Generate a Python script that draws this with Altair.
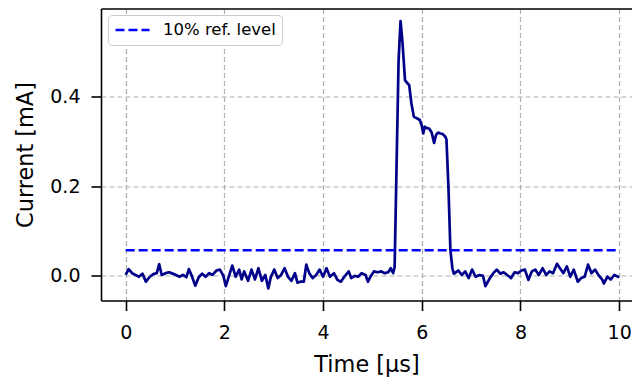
import altair as alt
import pandas as pd

time_us = [
    0.00, 0.06, 0.13, 0.20, 0.27, 0.34, 0.41, 0.49, 0.56, 0.63, 0.68, 0.73, 0.81, 0.88, 0.95,
    1.02, 1.09, 1.16, 1.23, 1.28, 1.34, 1.41, 1.48, 1.55, 1.62, 1.69, 1.76, 1.84, 1.91, 1.98,
    2.03, 2.08, 2.16, 2.23, 2.30, 2.35, 2.40, 2.48, 2.55, 2.62, 2.69, 2.76, 2.83, 2.89, 2.94,
    3.01, 3.08, 3.15, 3.22, 3.29, 3.36, 3.43, 3.48, 3.54, 3.61, 3.66, 3.72, 3.79, 3.86, 3.93,
    4.00, 4.07, 4.14, 4.22, 4.29, 4.36, 4.43, 4.52, 4.57, 4.64, 4.71, 4.78, 4.86, 4.91, 4.96,
    5.03, 5.10, 5.18, 5.25, 5.32, 5.37, 5.42, 5.45, 5.49, 5.53, 5.57, 5.61, 5.66, 5.71, 5.745,
    5.79, 5.84, 5.90, 5.96, 6.00, 6.03, 6.06, 6.10, 6.15, 6.20, 6.25, 6.29, 6.33, 6.38, 6.42,
    6.47, 6.50, 6.54, 6.58, 6.62, 6.65, 6.67, 6.74, 6.81, 6.88, 6.95, 7.02, 7.09, 7.17, 7.24,
    7.29, 7.38, 7.45, 7.52, 7.59, 7.66, 7.73, 7.81, 7.88, 7.95, 8.02, 8.09, 8.16, 8.23, 8.30,
    8.37, 8.45, 8.52, 8.59, 8.66, 8.74, 8.80, 8.87, 8.94, 9.01, 9.08, 9.16, 9.23, 9.30, 9.37,
    9.44, 9.51, 9.58, 9.66, 9.69, 9.76, 9.83, 9.90, 10.00,
]
current_mA = [
    0.002, 0.015, 0.006, 0.002, -0.002, 0.005, -0.013, -0.002, 0.004, 0.006, 0.026, 0.002, 0.006, 0.008, 0.005,
    0.002, -0.002, 0.002, -0.003, 0.015, 0.000, -0.022, -0.003, 0.005, -0.002, 0.006, 0.002, 0.012, 0.014, 0.000,
    -0.023, -0.005, 0.023, -0.002, 0.014, -0.008, 0.010, -0.011, 0.014, -0.008, 0.017, -0.011, 0.002, -0.028, -0.003,
    0.014, -0.005, 0.002, 0.017, -0.002, -0.011, 0.006, -0.015, -0.013, -0.013, 0.025, 0.006, -0.005, 0.002, 0.014,
    -0.002, 0.017, -0.002, 0.006, -0.009, -0.013, -0.002, 0.010, -0.005, 0.000, -0.002, 0.006, 0.002, -0.013, -0.002,
    0.010, 0.008, 0.010, 0.006, 0.008, 0.017, 0.006, 0.020, 0.250, 0.480, 0.569, 0.520, 0.437, 0.430, 0.426,
    0.385, 0.355, 0.352, 0.348, 0.335, 0.318, 0.333, 0.330, 0.329, 0.320, 0.297, 0.315, 0.320, 0.318, 0.317,
    0.312, 0.305, 0.200, 0.058, 0.017, 0.005, 0.006, 0.012, 0.002, 0.010, -0.005, 0.014, -0.002, 0.002, 0.000,
    -0.023, -0.005, 0.006, 0.014, 0.005, 0.008, 0.002, -0.005, 0.008, 0.006, 0.012, 0.014, -0.009, 0.010, 0.014,
    0.002, 0.017, 0.002, 0.010, 0.006, 0.027, 0.017, 0.006, 0.021, -0.002, 0.014, -0.013, -0.005, -0.002, 0.025,
    0.006, 0.014, 0.002, -0.009, -0.017, -0.002, -0.008, 0.002, -0.003,
]
ref_label = ["10% ref. level"]
ref_level = [0.057]
ref_start = [0.0]
ref_end = [10.0]
x_ticks = [0, 2, 4, 6, 8, 10]
y_ticks = [0.0, 0.2, 0.4]

sig = pd.DataFrame({"t": time_us, "i": current_mA})
ref = pd.DataFrame({"t0": ref_start, "t1": ref_end, "y": ref_level, "label": ref_label})

FONT = "DejaVu Sans"
x_scale = alt.Scale(domain=[-0.5, 10.26], nice=False, zero=False)
y_scale = alt.Scale(domain=[-0.055, 0.597], nice=False, zero=False)

line = alt.Chart(sig).mark_line(color="#00008b", strokeWidth=2.7, strokeJoin="round").encode(
    x=alt.X("t:Q", scale=x_scale,
            axis=alt.Axis(values=x_ticks, title="Time [μs]", format="d", orient="bottom",
                          labelPadding=13, titleY=71, titleBaseline="alphabetic")),
    y=alt.Y("i:Q", scale=y_scale,
            axis=alt.Axis(values=y_ticks, format=".1f", title="Current [mA]",
                          labelPadding=11, titleX=-69, titleY=146, titleBaseline="alphabetic")),
)

rule = alt.Chart(ref).mark_rule(strokeWidth=2.5, strokeDash=[9, 4]).encode(
    x=alt.X("t0:Q", scale=x_scale,
            axis=alt.Axis(orient="top", labels=False, ticks=False, grid=False, title=None,
                          domain=True, domainColor="black", domainWidth=1.6)),
    x2="t1",
    y=alt.Y("y:Q", scale=y_scale),
    color=alt.Color("label:N",
                    scale=alt.Scale(domain=ref_label, range=["#0000ff"]),
                    legend=alt.Legend(title=None, orient="none", legendX=7, legendY=6.5,
                                      symbolType="stroke", symbolSize=1156, symbolStrokeWidth=2.5,
                                      symbolDash=[9, 4], labelFontSize=16.5, labelFont=FONT,
                                      labelColor="black", labelOffset=12, padding=6,
                                      cornerRadius=4, strokeColor="#cccccc", fillColor="white",
                                      clipHeight=18)),
)

chart = (line + rule).resolve_axis(x="independent").properties(
    width=531, height=292,
    autosize=alt.AutoSizeParams(type="none"),
    padding={"left": 93, "top": 0.5, "right": 0, "bottom": 76},
).configure_view(strokeWidth=0).configure_axis(
    domain=False, grid=True, gridDash=[5, 3], gridColor="#b0b0b0", gridWidth=1.2,
    tickColor="black", tickWidth=1.6, tickSize=10,
    labelFont=FONT, labelFontSize=19, labelColor="black",
    titleFont=FONT, titleFontSize=22.4, titleFontWeight="normal", titleColor="black",
).configure_axisLeft(domain=True, domainColor="black", domainWidth=1.6
).configure_axisBottom(domain=True, domainColor="black", domainWidth=1.6)

chart.save("out.html", embed_options={"renderer": "svg", "actions": False})
